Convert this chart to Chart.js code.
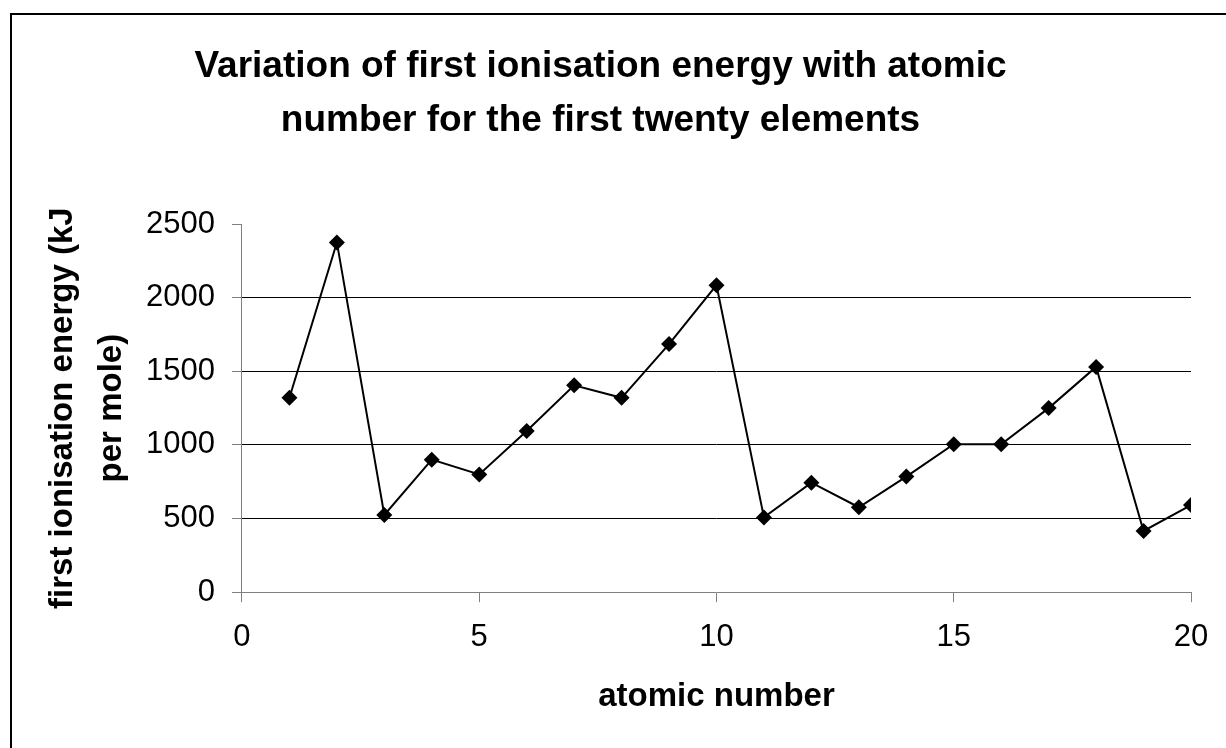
<!DOCTYPE html>
<html>
<head>
<meta charset="utf-8">
<script src="https://cdn.jsdelivr.net/npm/chart.js@4/dist/chart.umd.min.js"></script>
<style>
  html, body { margin: 0; padding: 0; background: #fff; }
  #wrap { position: relative; width: 1226px; height: 748px; }
  #frame { position: absolute; left: 10px; top: 13px; right: -4px; bottom: -4px; border-left: 2px solid #000; border-top: 2px solid #000; }
  canvas { position: absolute; left: 0; top: 0; }
</style>
</head>
<body>
<div id="wrap">
  <div id="frame"></div>
  <canvas id="chart" width="1226" height="748"></canvas>
</div>
<script>
const atomicNumbers = [1, 2, 3, 4, 5, 6, 7, 8, 9, 10, 11, 12, 13, 14, 15, 16, 17, 18, 19, 20];
const ionisationEnergies = [1320, 2375, 525, 900, 800, 1095, 1405, 1320, 1685, 2085, 508, 744, 577, 785, 1005, 1005, 1250, 1530, 416, 592];
const xTickValues = [0, 5, 10, 15, 20];
const yTickValues = [0, 500, 1000, 1500, 2000, 2500];

const fontFamily = '"Liberation Sans", Arial, sans-serif';

const points = atomicNumbers.map((n, i) => ({ x: n, y: ionisationEnergies[i] }));

const ctx = document.getElementById('chart').getContext('2d');

new Chart(ctx, {
    type: 'scatter',
    data: {
        datasets: [{
            data: points,
            showLine: true,
            borderColor: '#000',
            borderWidth: 2,
            backgroundColor: '#000',
            pointStyle: 'rectRot',
            pointRadius: 8,
            pointBorderWidth: 0,
            tension: 0
        }]
    },
    options: {
        responsive: false,
        animation: false,
        layout: {
            padding: { left: 10, right: 35, top: 0, bottom: 0 }
        },
        plugins: {
            legend: { display: false },
            tooltip: { enabled: false },
            title: {
                display: true,
                text: ['Variation of first ionisation energy with atomic', 'number for the first twenty elements'],
                color: '#000',
                font: { family: fontFamily, size: 37, weight: 'bold', lineHeight: 1.46 },
                padding: { top: 40, bottom: 76 }
            }
        },
        scales: {
            x: {
                type: 'linear',
                min: 0,
                max: 20,
                afterBuildTicks: (scale) => { scale.ticks = xTickValues.map(v => ({ value: v })); },
                border: { color: '#808080', width: 1 },
                grid: {
                    drawOnChartArea: false,
                    drawTicks: true,
                    tickLength: 10,
                    tickColor: '#808080'
                },
                ticks: {
                    color: '#000',
                    padding: 17,
                    maxRotation: 0,
                    font: { family: fontFamily, size: 31 },
                    callback: (v) => String(v)
                },
                title: {
                    display: true,
                    text: 'atomic number',
                    color: '#000',
                    font: { family: fontFamily, size: 33, weight: 'bold', lineHeight: 1.2 },
                    padding: { top: 4, bottom: 31 }
                }
            },
            y: {
                type: 'linear',
                min: 0,
                max: 2500,
                afterBuildTicks: (scale) => { scale.ticks = yTickValues.map(v => ({ value: v })); },
                border: { color: '#808080', width: 1 },
                grid: {
                    color: (c) => (c.tick && (c.tick.value === 0 || c.tick.value === 2500)) ? 'rgba(0,0,0,0)' : '#000',
                    tickColor: '#808080',
                    tickLength: 10
                },
                ticks: {
                    color: '#000',
                    padding: 17,
                    font: { family: fontFamily, size: 31 },
                    callback: (v) => String(v)
                },
                title: {
                    display: true,
                    text: ['first ionisation energy (kJ', 'per mole)'],
                    color: '#000',
                    font: { family: fontFamily, size: 33, weight: 'bold', lineHeight: 1.485 },
                    padding: { top: 28, bottom: -7 }
                }
            }
        }
    }
});
</script>
</body>
</html>
